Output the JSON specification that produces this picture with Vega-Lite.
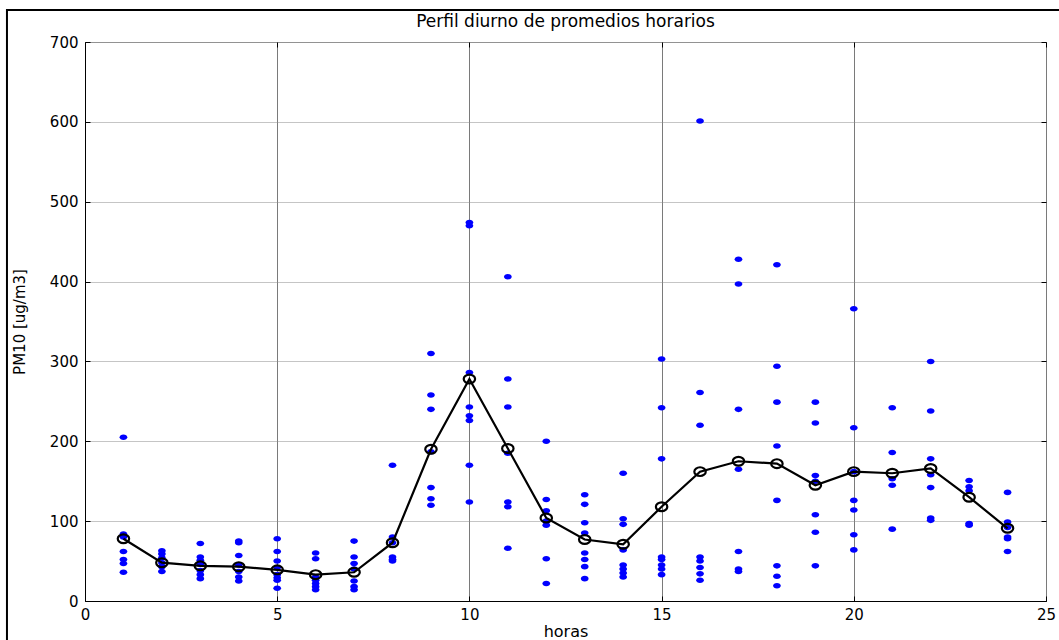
{
  "$schema": "https://vega.github.io/schema/vega-lite/v6.json",
  "width": 961,
  "height": 559,
  "autosize": {"type": "none"},
  "padding": {"left": 85, "top": 42, "right": 13, "bottom": 39},
  "background": "white",
  "title": {
    "text": "Perfil diurno de promedios horarios",
    "fontSize": 17,
    "fontWeight": "normal",
    "font": "DejaVu Sans",
    "color": "black",
    "anchor": "middle",
    "frame": "group",
    "offset": -22
  },
  "config": {
    "font": "DejaVu Sans",
    "view": {"stroke": "#9a9a9a", "strokeWidth": 1},
    "axis": {
      "labelFont": "DejaVu Sans",
      "labelFontSize": 15,
      "labelColor": "black",
      "titleFont": "DejaVu Sans",
      "titleFontSize": 16,
      "titleFontWeight": "normal",
      "titleColor": "black",
      "domainColor": "black",
      "tickColor": "black",
      "tickSize": -5,
      "labelFlush": false
    }
  },
  "datasets": {
    "obs": [
      {"hora": 1, "pm10": 205}, {"hora": 1, "pm10": 84}, {"hora": 1, "pm10": 80}, {"hora": 1, "pm10": 62}, {"hora": 1, "pm10": 52}, {"hora": 1, "pm10": 47}, {"hora": 1, "pm10": 36},
      {"hora": 2, "pm10": 63}, {"hora": 2, "pm10": 59}, {"hora": 2, "pm10": 54}, {"hora": 2, "pm10": 48}, {"hora": 2, "pm10": 43}, {"hora": 2, "pm10": 37},
      {"hora": 3, "pm10": 72}, {"hora": 3, "pm10": 55}, {"hora": 3, "pm10": 51}, {"hora": 3, "pm10": 46}, {"hora": 3, "pm10": 38}, {"hora": 3, "pm10": 33}, {"hora": 3, "pm10": 28},
      {"hora": 4, "pm10": 75}, {"hora": 4, "pm10": 73}, {"hora": 4, "pm10": 57}, {"hora": 4, "pm10": 45}, {"hora": 4, "pm10": 37}, {"hora": 4, "pm10": 30}, {"hora": 4, "pm10": 25},
      {"hora": 5, "pm10": 78}, {"hora": 5, "pm10": 62}, {"hora": 5, "pm10": 50}, {"hora": 5, "pm10": 42}, {"hora": 5, "pm10": 33}, {"hora": 5, "pm10": 29}, {"hora": 5, "pm10": 26}, {"hora": 5, "pm10": 16},
      {"hora": 6, "pm10": 60}, {"hora": 6, "pm10": 53}, {"hora": 6, "pm10": 30}, {"hora": 6, "pm10": 26}, {"hora": 6, "pm10": 22}, {"hora": 6, "pm10": 18}, {"hora": 6, "pm10": 14},
      {"hora": 7, "pm10": 75}, {"hora": 7, "pm10": 55}, {"hora": 7, "pm10": 47}, {"hora": 7, "pm10": 40}, {"hora": 7, "pm10": 25}, {"hora": 7, "pm10": 18}, {"hora": 7, "pm10": 14},
      {"hora": 8, "pm10": 170}, {"hora": 8, "pm10": 80}, {"hora": 8, "pm10": 73}, {"hora": 8, "pm10": 55}, {"hora": 8, "pm10": 52}, {"hora": 8, "pm10": 50},
      {"hora": 9, "pm10": 310}, {"hora": 9, "pm10": 258}, {"hora": 9, "pm10": 240}, {"hora": 9, "pm10": 187}, {"hora": 9, "pm10": 142}, {"hora": 9, "pm10": 128}, {"hora": 9, "pm10": 120},
      {"hora": 10, "pm10": 474}, {"hora": 10, "pm10": 470}, {"hora": 10, "pm10": 286}, {"hora": 10, "pm10": 243}, {"hora": 10, "pm10": 232}, {"hora": 10, "pm10": 226}, {"hora": 10, "pm10": 170}, {"hora": 10, "pm10": 124},
      {"hora": 11, "pm10": 406}, {"hora": 11, "pm10": 278}, {"hora": 11, "pm10": 243}, {"hora": 11, "pm10": 185}, {"hora": 11, "pm10": 124}, {"hora": 11, "pm10": 118}, {"hora": 11, "pm10": 66},
      {"hora": 12, "pm10": 200}, {"hora": 12, "pm10": 127}, {"hora": 12, "pm10": 113}, {"hora": 12, "pm10": 100}, {"hora": 12, "pm10": 95}, {"hora": 12, "pm10": 53}, {"hora": 12, "pm10": 22},
      {"hora": 13, "pm10": 133}, {"hora": 13, "pm10": 121}, {"hora": 13, "pm10": 98}, {"hora": 13, "pm10": 85}, {"hora": 13, "pm10": 60}, {"hora": 13, "pm10": 52}, {"hora": 13, "pm10": 43}, {"hora": 13, "pm10": 28},
      {"hora": 14, "pm10": 160}, {"hora": 14, "pm10": 103}, {"hora": 14, "pm10": 96}, {"hora": 14, "pm10": 64}, {"hora": 14, "pm10": 45}, {"hora": 14, "pm10": 40}, {"hora": 14, "pm10": 35}, {"hora": 14, "pm10": 30},
      {"hora": 15, "pm10": 303}, {"hora": 15, "pm10": 242}, {"hora": 15, "pm10": 178}, {"hora": 15, "pm10": 55}, {"hora": 15, "pm10": 52}, {"hora": 15, "pm10": 45}, {"hora": 15, "pm10": 40}, {"hora": 15, "pm10": 33},
      {"hora": 16, "pm10": 601}, {"hora": 16, "pm10": 261}, {"hora": 16, "pm10": 220}, {"hora": 16, "pm10": 55}, {"hora": 16, "pm10": 50}, {"hora": 16, "pm10": 42}, {"hora": 16, "pm10": 34}, {"hora": 16, "pm10": 26},
      {"hora": 17, "pm10": 428}, {"hora": 17, "pm10": 397}, {"hora": 17, "pm10": 240}, {"hora": 17, "pm10": 165}, {"hora": 17, "pm10": 62}, {"hora": 17, "pm10": 40}, {"hora": 17, "pm10": 37},
      {"hora": 18, "pm10": 421}, {"hora": 18, "pm10": 294}, {"hora": 18, "pm10": 249}, {"hora": 18, "pm10": 194}, {"hora": 18, "pm10": 126}, {"hora": 18, "pm10": 44}, {"hora": 18, "pm10": 31}, {"hora": 18, "pm10": 19},
      {"hora": 19, "pm10": 249}, {"hora": 19, "pm10": 223}, {"hora": 19, "pm10": 157}, {"hora": 19, "pm10": 150}, {"hora": 19, "pm10": 108}, {"hora": 19, "pm10": 86}, {"hora": 19, "pm10": 44},
      {"hora": 20, "pm10": 366}, {"hora": 20, "pm10": 217}, {"hora": 20, "pm10": 162}, {"hora": 20, "pm10": 126}, {"hora": 20, "pm10": 114}, {"hora": 20, "pm10": 83}, {"hora": 20, "pm10": 64},
      {"hora": 21, "pm10": 242}, {"hora": 21, "pm10": 186}, {"hora": 21, "pm10": 153}, {"hora": 21, "pm10": 145}, {"hora": 21, "pm10": 90},
      {"hora": 22, "pm10": 300}, {"hora": 22, "pm10": 238}, {"hora": 22, "pm10": 178}, {"hora": 22, "pm10": 158}, {"hora": 22, "pm10": 142}, {"hora": 22, "pm10": 104}, {"hora": 22, "pm10": 101},
      {"hora": 23, "pm10": 151}, {"hora": 23, "pm10": 143}, {"hora": 23, "pm10": 138}, {"hora": 23, "pm10": 97}, {"hora": 23, "pm10": 95},
      {"hora": 24, "pm10": 136}, {"hora": 24, "pm10": 99}, {"hora": 24, "pm10": 92}, {"hora": 24, "pm10": 80}, {"hora": 24, "pm10": 78}, {"hora": 24, "pm10": 62}
    ],
    "promedio": [
      {"hora": 1, "pm10": 78}, {"hora": 2, "pm10": 48}, {"hora": 3, "pm10": 44}, {"hora": 4, "pm10": 43},
      {"hora": 5, "pm10": 39}, {"hora": 6, "pm10": 33}, {"hora": 7, "pm10": 36}, {"hora": 8, "pm10": 73},
      {"hora": 9, "pm10": 190}, {"hora": 10, "pm10": 278}, {"hora": 11, "pm10": 191}, {"hora": 12, "pm10": 104},
      {"hora": 13, "pm10": 77}, {"hora": 14, "pm10": 71}, {"hora": 15, "pm10": 118}, {"hora": 16, "pm10": 162},
      {"hora": 17, "pm10": 175}, {"hora": 18, "pm10": 172}, {"hora": 19, "pm10": 145}, {"hora": 20, "pm10": 162},
      {"hora": 21, "pm10": 160}, {"hora": 22, "pm10": 166}, {"hora": 23, "pm10": 130}, {"hora": 24, "pm10": 91}
    ]
  },
  "resolve": {"axis": {"x": "independent", "y": "independent"}},
  "layer": [
    {
      "data": {"name": "obs"},
      "mark": {
        "type": "point",
        "shape": "M-1,0A1,0.72,0,1,1,1,0A1,0.72,0,1,1,-1,0Z",
        "filled": true,
        "color": "#0000ff",
        "opacity": 1,
        "size": 60
      },
      "encoding": {
        "x": {
          "field": "hora", "type": "quantitative",
          "scale": {"domain": [0, 25], "nice": false, "zero": false},
          "axis": {
            "title": "horas", "titlePadding": 1,
            "values": [0, 5, 10, 15, 20, 25],
            "grid": true, "gridColor": "#7a7a7a", "gridWidth": 1,
            "labelPadding": 11, "domainWidth": 1
          }
        },
        "y": {
          "field": "pm10", "type": "quantitative",
          "scale": {"domain": [0, 700], "nice": false},
          "axis": {
            "title": "PM10 [ug/m3]", "titlePadding": 22, "titleFontSize": 15,
            "values": [0, 100, 200, 300, 400, 500, 600, 700],
            "grid": true, "gridColor": "#8a8a8a", "gridDash": [1, 1], "gridWidth": 1,
            "labelPadding": 12, "domainWidth": 1
          }
        }
      }
    },
    {
      "data": {"name": "promedio"},
      "mark": {"type": "line", "color": "black", "strokeWidth": 2.2},
      "encoding": {
        "x": {"field": "hora", "type": "quantitative", "scale": {"domain": [0, 25], "nice": false, "zero": false},
              "axis": {"orient": "top", "labels": false, "title": null, "grid": false, "domain": false, "values": [0, 5, 10, 15, 20, 25]}},
        "y": {"field": "pm10", "type": "quantitative", "scale": {"domain": [0, 700], "nice": false},
              "axis": {"orient": "right", "labels": false, "title": null, "grid": false, "domain": false, "values": [0, 100, 200, 300, 400, 500, 600, 700]}}
      }
    },
    {
      "data": {"name": "promedio"},
      "mark": {
        "type": "point",
        "shape": "M-1,0A1,0.77,0,1,1,1,0A1,0.77,0,1,1,-1,0Z",
        "filled": false,
        "color": "black",
        "strokeWidth": 2.2,
        "opacity": 1,
        "size": 130
      },
      "encoding": {
        "x": {"field": "hora", "type": "quantitative", "scale": {"domain": [0, 25], "nice": false, "zero": false}, "axis": null},
        "y": {"field": "pm10", "type": "quantitative", "scale": {"domain": [0, 700], "nice": false}, "axis": null}
      }
    },
    {
      "data": {"values": [{"marco": 1}]},
      "mark": {"type": "rect", "fill": null, "stroke": "black", "strokeWidth": 2, "clip": false},
      "encoding": {
        "x": {"datum": -2.03, "type": "quantitative", "scale": {"domain": [0, 25], "nice": false, "zero": false}, "axis": null},
        "x2": {"datum": 27},
        "y": {"datum": 740, "type": "quantitative", "scale": {"domain": [0, 700], "nice": false}, "axis": null},
        "y2": {"datum": -80}
      }
    }
  ]
}
